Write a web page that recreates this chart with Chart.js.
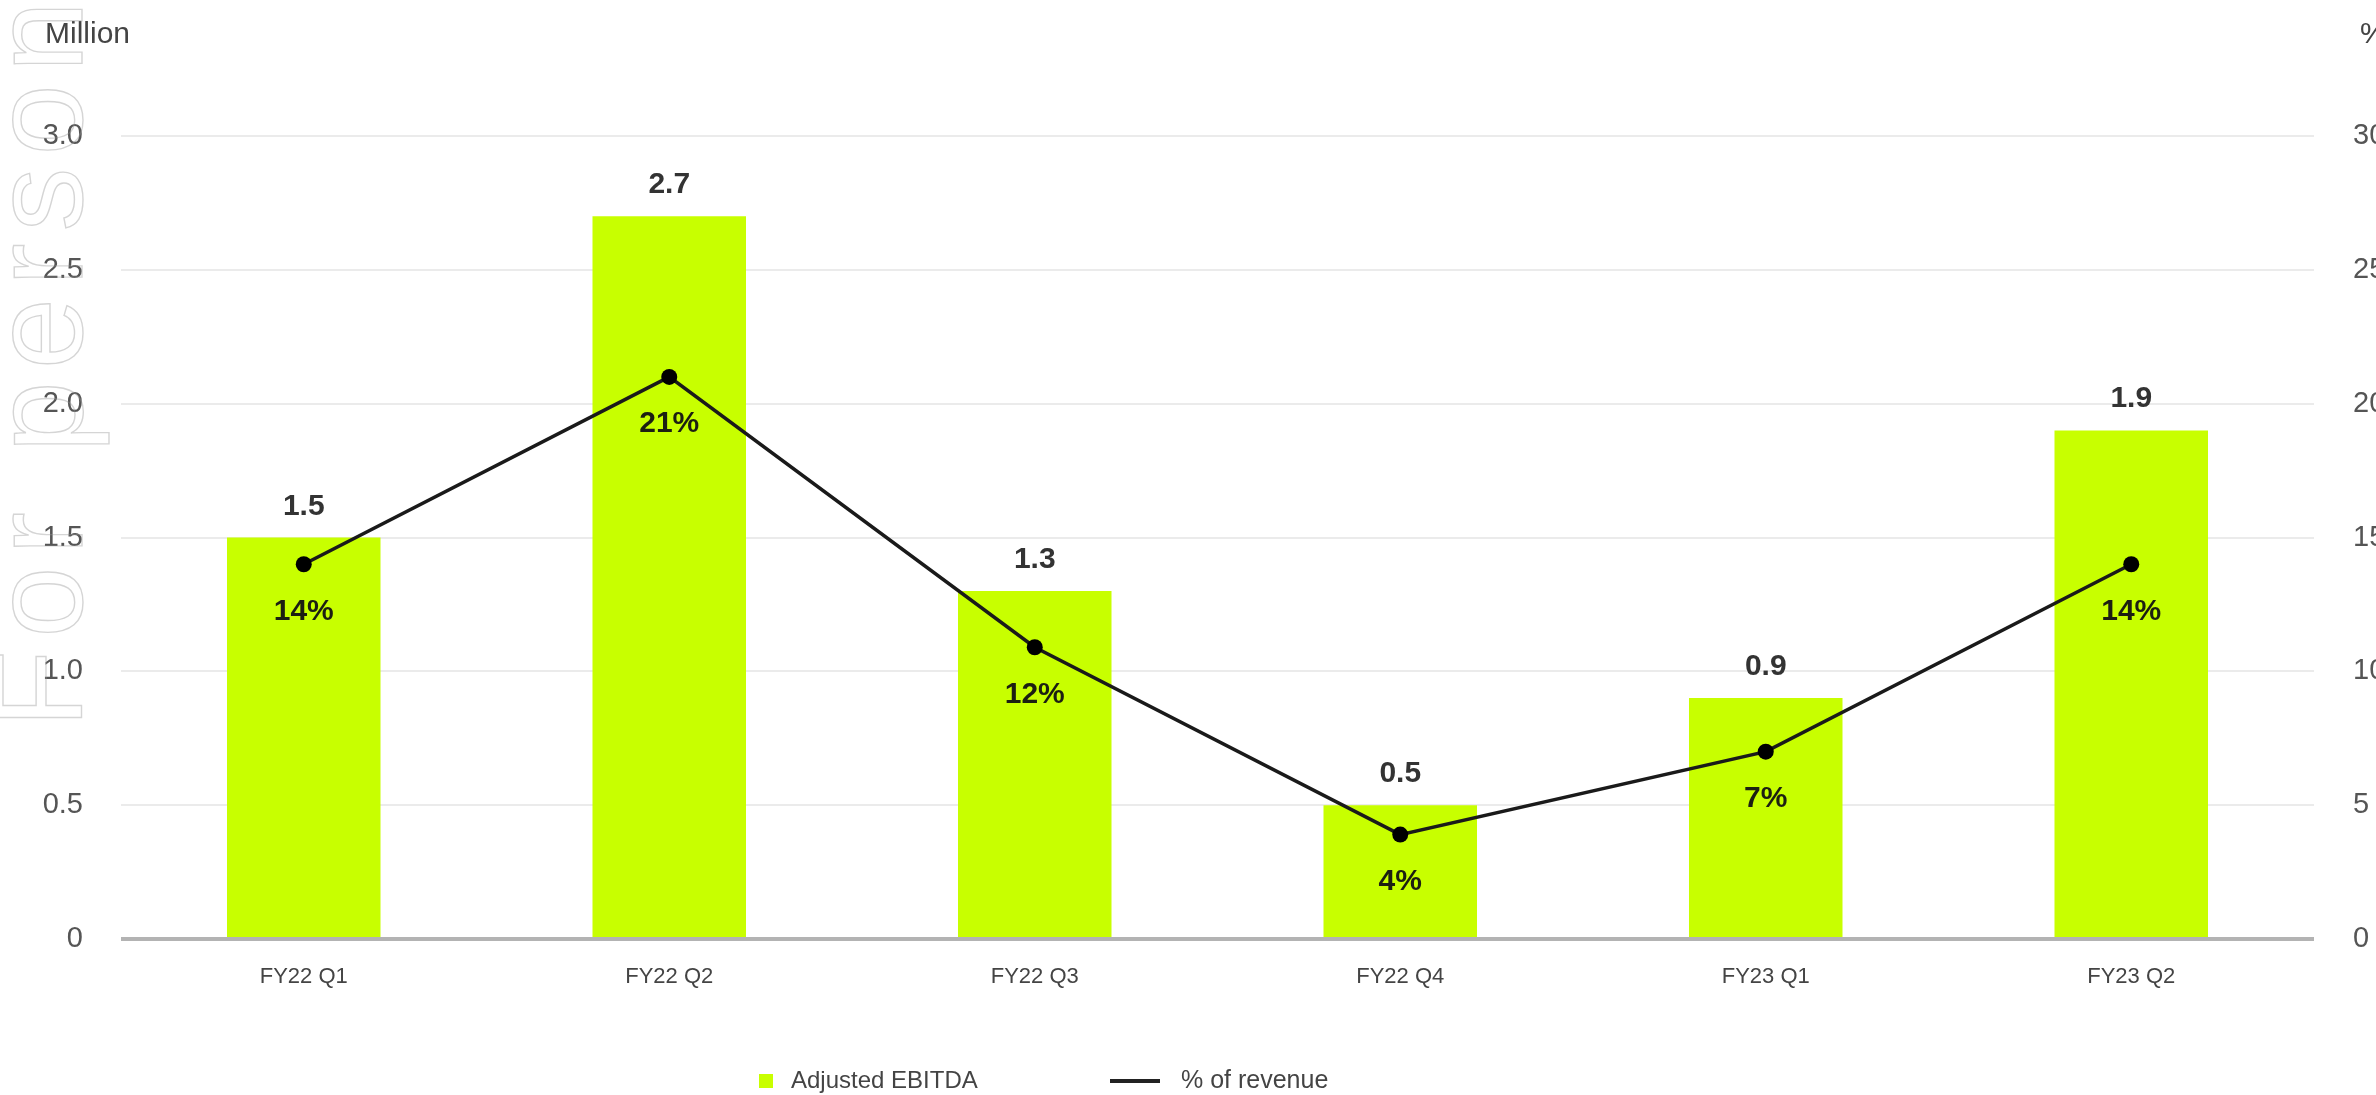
<!DOCTYPE html>
<html>
<head>
<meta charset="utf-8">
<title>Adjusted EBITDA</title>
<script src="https://cdn.jsdelivr.net/npm/chart.js@4.4.1/dist/chart.umd.min.js"></script>
<style>
  html, body { margin: 0; padding: 0; background: #fff; }
  #wrap { width: 2376px; height: 1095px; position: relative; }
</style>
</head>
<body>
<div id="wrap"><canvas id="ebitda-chart" width="2376" height="1095"></canvas></div>
<script>
var categories = ['FY22 Q1', 'FY22 Q2', 'FY22 Q3', 'FY22 Q4', 'FY23 Q1', 'FY23 Q2'];
var ebitdaValues = [1.5, 2.7, 1.3, 0.5, 0.9, 1.9];
var revenuePct = [14, 21, 10.9, 3.9, 7, 14];
var revenuePctLabels = ['14%', '21%', '12%', '4%', '7%', '14%'];
var leftTicks = [0, 0.5, 1.0, 1.5, 2.0, 2.5, 3.0];
var rightTicks = [0, 5, 10, 15, 20, 25, 30];

var FONT = '"Liberation Sans", Arial, sans-serif';
var LIME = 'rgb(200,255,0)';

// value labels above bars and under the line points
var valueLabels = {
  id: 'valueLabels',
  afterDatasetsDraw: function (chart) {
    var ctx = chart.ctx;
    ctx.save();
    ctx.textAlign = 'center';

    var bars = chart.getDatasetMeta(0).data;
    ctx.font = '600 30px ' + FONT;
    ctx.fillStyle = '#333';
    ctx.textBaseline = 'alphabetic';
    bars.forEach(function (el, i) {
      ctx.fillText(ebitdaValues[i].toFixed(1), el.x, el.y - 23);
    });

    var pts = chart.getDatasetMeta(1).data;
    ctx.fillStyle = '#1c1f12';
    ctx.textBaseline = 'middle';
    pts.forEach(function (el, i) {
      ctx.fillText(revenuePctLabels[i], el.x, el.y + 47);
    });
    ctx.restore();
  }
};

// unit captions, legend and the faint vertical watermark
var extras = {
  id: 'extras',
  afterDraw: function (chart) {
    var ctx = chart.ctx;
    ctx.save();

    ctx.font = '30px ' + FONT;
    ctx.fillStyle = '#444';
    ctx.textBaseline = 'middle';
    ctx.textAlign = 'left';
    ctx.fillText('Million', 45, 35);
    ctx.fillText('%', 2360, 35);

    // legend
    var ly = 1081;
    ctx.font = '24px ' + FONT;
    ctx.fillStyle = LIME;
    ctx.fillRect(759, ly - 7, 14, 14);
    ctx.fillStyle = '#444';
    ctx.fillText('Adjusted EBITDA', 791, ly);
    ctx.strokeStyle = '#222';
    ctx.lineWidth = 4;
    ctx.beginPath();
    ctx.moveTo(1110, ly);
    ctx.lineTo(1160, ly);
    ctx.stroke();
    ctx.font = '25px ' + FONT;
    ctx.fillText('% of revenue', 1181, ly);

    // watermark
    ctx.translate(82, 728);
    ctx.rotate(-Math.PI / 2);
    ctx.font = '128px ' + FONT;
    if ('letterSpacing' in ctx) ctx.letterSpacing = '12px';
    ctx.textAlign = 'left';
    ctx.textBaseline = 'alphabetic';
    ctx.strokeStyle = 'rgba(150,150,150,0.4)';
    ctx.lineWidth = 1.4;
    ctx.strokeText('For personal use only', 0, 0);
    ctx.restore();
  }
};

new Chart(document.getElementById('ebitda-chart').getContext('2d'), {
  data: {
    labels: categories,
    datasets: [
      {
        type: 'bar',
        label: 'Adjusted EBITDA',
        data: ebitdaValues,
        backgroundColor: LIME,
        borderWidth: 0,
        barPercentage: 0.42,
        categoryPercentage: 1.0,
        yAxisID: 'y',
        order: 2
      },
      {
        type: 'line',
        label: '% of revenue',
        data: revenuePct,
        borderColor: '#1a1a1a',
        borderWidth: 3.5,
        pointRadius: 8,
        pointBackgroundColor: '#000',
        pointBorderWidth: 0,
        tension: 0,
        yAxisID: 'y1',
        order: 1
      }
    ]
  },
  options: {
    responsive: false,
    devicePixelRatio: 1,
    animation: false,
    layout: { padding: { top: 136, left: 0, right: 0, bottom: 0 } },
    plugins: {
      legend: { display: false },
      tooltip: { enabled: false }
    },
    scales: {
      x: {
        grid: { display: false },
        border: { display: false },
        ticks: {
          color: '#444',
          font: { family: FONT, size: 22 },
          padding: 17
        },
        afterFit: function (s) { s.height = 156; }
      },
      y: {
        position: 'left',
        min: 0,
        max: 3,
        afterBuildTicks: function (s) {
          s.ticks = leftTicks.map(function (v) { return { value: v }; });
        },
        border: { display: false },
        grid: {
          drawTicks: false,
          color: function (c) { return c.tick && c.tick.value === 0 ? '#b3b3b3' : '#ebebeb'; },
          lineWidth: function (c) { return c.tick && c.tick.value === 0 ? 4 : 2; }
        },
        ticks: {
          color: '#555',
          font: { family: FONT, size: 29 },
          padding: 38,
          callback: function (v) { return v === 0 ? '0' : Number(v).toFixed(1); }
        },
        afterFit: function (s) { s.width = 121; }
      },
      y1: {
        position: 'right',
        min: 0,
        max: 30,
        afterBuildTicks: function (s) {
          s.ticks = rightTicks.map(function (v) { return { value: v }; });
        },
        border: { display: false },
        grid: { display: false, drawTicks: false },
        ticks: {
          color: '#555',
          font: { family: FONT, size: 29 },
          padding: 39
        },
        afterFit: function (s) { s.width = 62; }
      }
    }
  },
  plugins: [valueLabels, extras]
});
</script>
</body>
</html>
